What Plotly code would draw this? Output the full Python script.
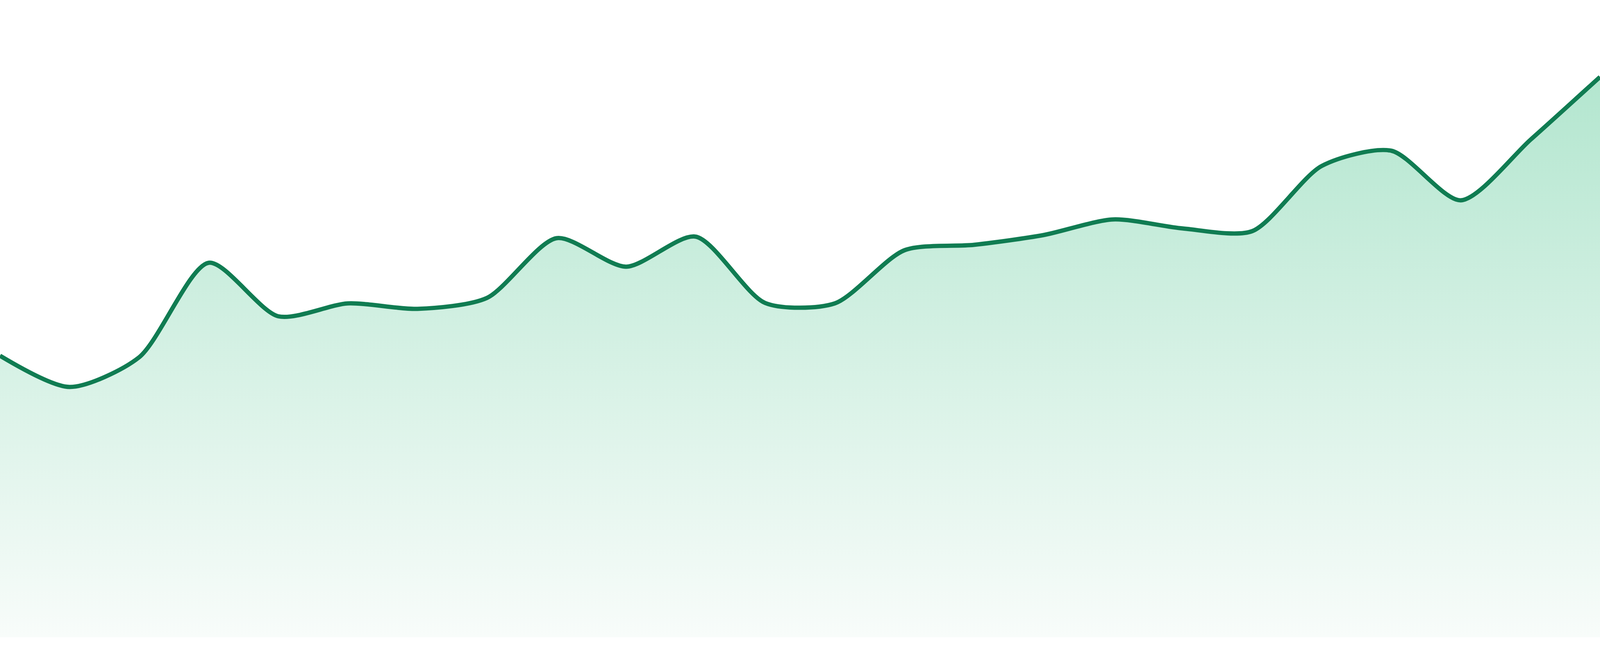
import plotly.graph_objects as go

# one value per day
days = list(range(24))
values = [72.1, 64.1, 71.7, 95.9, 82.2, 85.5, 84.1, 86.9, 102.2, 94.9, 102.6, 85.6,
          85.5, 99.1, 100.5, 103.0, 107.0, 104.7, 104.0, 120.7, 124.6, 111.9, 127.4, 143.5]

LINE = "rgb(16,124,82)"

fig = go.Figure(
    go.Scatter(
        x=days,
        y=values,
        mode="lines",
        line=dict(color=LINE, width=11, shape="spline", smoothing=0.75),
        fill="tozeroy",
        fillgradient=dict(
            type="vertical",
            start=0,
            stop=max(values),
            colorscale=[[0, "rgb(248,252,250)"], [1, "rgb(179,230,207)"]],
        ),
        hoverinfo="skip",
    )
)

# chart fills the whole window; the white strip under the fill comes from the y range
fig.update_layout(
    autosize=True,
    margin=dict(l=0, r=0, t=0, b=0),
    paper_bgcolor="white",
    plot_bgcolor="white",
    showlegend=False,
)
fig.update_xaxes(range=[0, 23], visible=False)
fig.update_yaxes(range=[-4.8, 163.2], visible=False)

fig.write_html(
    "out.html",
    default_width="100vw",
    default_height="100vh",
    config={"displayModeBar": False, "responsive": True},
    post_script=(
        "document.body.style.margin='0';"
        "document.body.style.overflow='hidden';"
        "Plotly.Plots.resize(document.getElementById('{plot_id}'));"
    ),
)
